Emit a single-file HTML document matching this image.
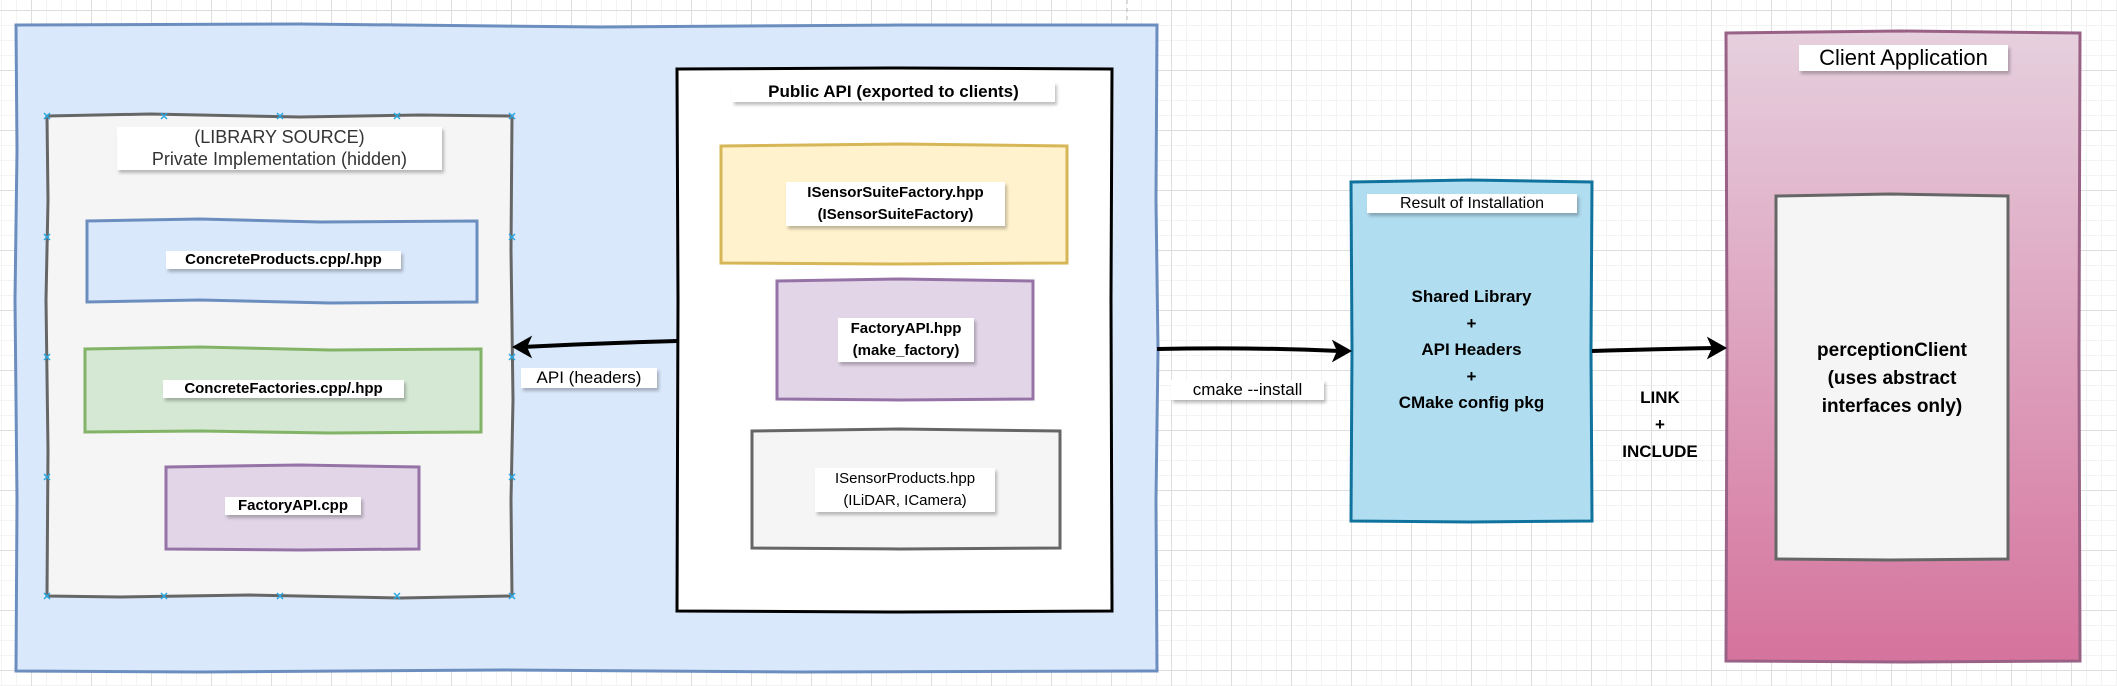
<!DOCTYPE html>
<html><head><meta charset="utf-8"><style>
html,body{margin:0;padding:0;}
body{width:2117px;height:686px;position:relative;overflow:hidden;font-family:"Liberation Sans",sans-serif;
background-color:#fff;
background-image:linear-gradient(#dedede 1px,transparent 1px),linear-gradient(90deg,#dedede 1px,transparent 1px),linear-gradient(#f3f3f3 1px,transparent 1px),linear-gradient(90deg,#f3f3f3 1px,transparent 1px);
background-size:60px 60px,60px 60px,15px 15px,15px 15px;
background-position:0 10px,31px 0,0 10px,31px 0;}
.t{position:absolute;background:#fff;box-shadow:2px 3px 3px rgba(0,0,0,.25);text-align:center;white-space:nowrap;line-height:1.2;}
.c{position:absolute;text-align:center;white-space:nowrap;}
svg{position:absolute;left:0;top:0;}
</style></head><body>
<svg width="2117" height="686" viewBox="0 0 2117 686">
<defs>
<linearGradient id="pg" x1="0" y1="0" x2="0" y2="1"><stop offset="0" stop-color="#e6d0de"/><stop offset="1" stop-color="#d5739d"/></linearGradient>
</defs>
<line x1="1127" y1="0" x2="1127" y2="25" stroke="#bbb" stroke-dasharray="4,4"/>
<polygon points="16,25 300,24 600,27 900,25 1157,25 1156,200 1158,350 1156,500 1157,671 800,672 500,670 200,672 16,671 17,500 15,300 17,150" fill="#dae8fc" stroke="#6c8ebf" stroke-width="3"/>
<polygon points="47,116 150,114 300,117 420,115 512,116 511,250 513,400 511,500 512,596 400,598 250,595 120,597 47,596 48,450 46,300 48,200" fill="#f5f5f5" stroke="#666" stroke-width="3"/>
<polygon points="87,221 200,219 320,222 477,221 477,302 330,303 200,300 87,302" fill="#dae8fc" stroke="#6c8ebf" stroke-width="3"/>
<polygon points="85,349 200,347 330,350 481,349 481,432 330,433 200,431 85,432" fill="#d5e8d4" stroke="#82b366" stroke-width="3"/>
<polygon points="166,467 300,465 419,467 419,549 300,550 166,549" fill="#e1d5e7" stroke="#9673a6" stroke-width="3"/>
<polygon points="677,69 900,68 1112,69 1111,300 1112,611 900,612 677,611 678,300" fill="#fff" stroke="#000" stroke-width="3"/>
<polygon points="721,146 900,144 1067,146 1067,263 900,264 721,263" fill="#fff2cc" stroke="#d6b656" stroke-width="3"/>
<polygon points="777,281 900,279 1033,281 1033,399 900,400 777,399" fill="#e1d5e7" stroke="#9673a6" stroke-width="3"/>
<polygon points="752,431 900,429 1060,431 1060,548 900,549 752,548" fill="#f5f5f5" stroke="#666" stroke-width="3"/>
<polygon points="1351,182 1470,180 1592,182 1591,350 1592,521 1470,522 1351,521 1352,350" fill="#b1ddf0" stroke="#10739e" stroke-width="3"/>
<polygon points="1726,33 1900,31 2080,33 2079,350 2080,661 1900,662 1726,661 1727,350" fill="url(#pg)" stroke="#996185" stroke-width="3"/>
<polygon points="1776,196 1890,194 2008,196 2008,559 1890,560 1776,559" fill="#f5f5f5" stroke="#666" stroke-width="3"/>
<path d="M677,341 Q600,343 522,347" fill="none" stroke="#000" stroke-width="4"/>
<path d="M514,347 L530,338 L526,347 L530,356Z" fill="#000" stroke="#000" stroke-width="2"/>
<path d="M1157,349 Q1250,347 1340,351" fill="none" stroke="#000" stroke-width="4"/>
<path d="M1350,351 L1334,342 L1338,351 L1334,360Z" fill="#000" stroke="#000" stroke-width="2"/>
<path d="M1592,351 Q1660,349 1716,348" fill="none" stroke="#000" stroke-width="4"/>
<path d="M1725,348 L1709,339 L1713,348 L1709,357Z" fill="#000" stroke="#000" stroke-width="2"/>
<g stroke="#29a7e1" stroke-width="1.5">
<path d="M44,113l6,6M50,113l-6,6M161,113l6,6M167,113l-6,6M277,113l6,6M283,113l-6,6M394,113l6,6M400,113l-6,6M509,113l6,6M515,113l-6,6M44,234l6,6M50,234l-6,6M509,234l6,6M515,234l-6,6M44,354l6,6M50,354l-6,6M509,354l6,6M515,354l-6,6M44,474l6,6M50,474l-6,6M509,474l6,6M515,474l-6,6M44,593l6,6M50,593l-6,6M161,593l6,6M167,593l-6,6M277,593l6,6M283,593l-6,6M394,593l6,6M400,593l-6,6M509,593l6,6M515,593l-6,6"/>
</g>
</svg>
<div class="t" style="left:117px;top:127px;width:325px;font-size:18px;color:#333;">(LIBRARY SOURCE)<br>Private Implementation (hidden)</div>
<div class="t" style="left:166px;top:251px;width:235px;font-size:15px;font-weight:bold;">ConcreteProducts.cpp/.hpp</div>
<div class="t" style="left:163px;top:380px;width:241px;font-size:15px;font-weight:bold;">ConcreteFactories.cpp/.hpp</div>
<div class="t" style="left:225px;top:497px;width:136px;font-size:15px;font-weight:bold;">FactoryAPI.cpp</div>
<div class="t" style="left:732px;top:82px;width:323px;font-size:17px;font-weight:bold;">Public API (exported to clients)</div>
<div class="t" style="left:786px;top:182px;width:219px;font-size:15px;font-weight:bold;line-height:22px;">ISensorSuiteFactory.hpp<br>(ISensorSuiteFactory)</div>
<div class="t" style="left:838px;top:318px;width:136px;font-size:15px;font-weight:bold;line-height:22px;">FactoryAPI.hpp<br>(make_factory)</div>
<div class="t" style="left:815px;top:468px;width:180px;font-size:15px;line-height:22px;">ISensorProducts.hpp<br>(ILiDAR, ICamera)</div>
<div class="t" style="left:521px;top:368px;width:136px;font-size:17px;">API (headers)</div>
<div class="t" style="left:1171px;top:380px;width:153px;font-size:17px;">cmake --install</div>
<div class="t" style="left:1367px;top:194px;width:210px;font-size:16px;">Result of Installation</div>
<div class="c" style="left:1351px;top:284px;width:241px;font-size:17px;font-weight:bold;line-height:26.5px;">Shared Library<br>+<br>API Headers<br>+<br>CMake config pkg</div>
<div class="c" style="left:1610px;top:384px;width:100px;font-size:17px;font-weight:bold;line-height:27px;">LINK<br>+<br>INCLUDE</div>
<div class="t" style="left:1799px;top:45px;width:209px;font-size:22px;">Client Application</div>
<div class="c" style="left:1776px;top:337px;width:232px;font-size:19px;font-weight:bold;line-height:28px;">perceptionClient<br>(uses abstract<br>interfaces only)</div>
</body></html>
